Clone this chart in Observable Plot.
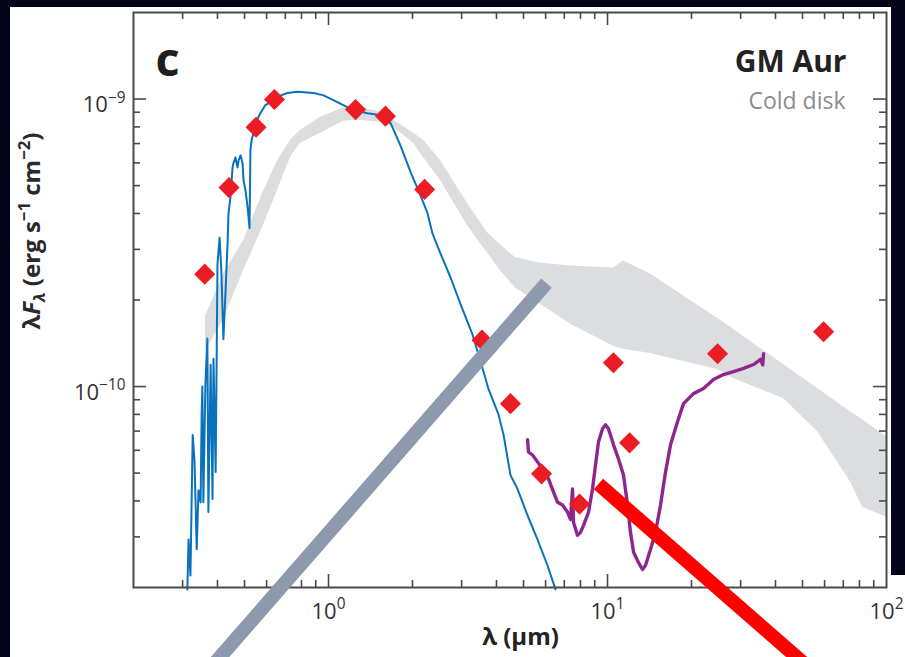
<!DOCTYPE html>
<html><head><meta charset="utf-8">
<script src="https://cdn.jsdelivr.net/npm/d3@7"></script>
<script src="https://cdn.jsdelivr.net/npm/@observablehq/plot@0.6"></script>
<style>
html,body{margin:0;padding:0;background:#04041a;width:905px;height:657px;overflow:hidden;}
#panel{position:absolute;left:10px;top:7px;width:881px;height:650px;background:#fff;}
#panel2{position:absolute;left:891px;top:575px;width:14px;height:82px;background:#fff;}
#chart{position:absolute;left:0;top:0;}
</style></head><body>
<div id="panel"></div><div id="panel2"></div><div id="chart"></div>
<script>
// ---- data (wavelength in µm, λFλ in erg s^-1 cm^-2) ----
const photWave = [0.36, 0.44, 0.55, 0.64, 1.25, 1.60, 2.21, 3.55, 4.49, 5.80, 7.94, 10.5, 12.0, 24.8, 59.5];
const photFlux = [2.46e-10, 4.92e-10, 7.98e-10, 9.96e-10, 9.19e-10, 8.72e-10, 4.85e-10, 1.45e-10, 8.72e-11, 4.97e-11, 3.90e-11, 1.21e-10, 6.37e-11, 1.30e-10, 1.55e-10];

const stellarSpectrum = [
  [0.312,1.97e-11],[0.315,2.94e-11],[0.320,2.20e-11],[0.326,6.79e-11],[0.331,5.47e-11],[0.337,2.72e-11],
  [0.342,4.36e-11],[0.348,3.96e-11],[0.351,7.98e-11],[0.353,1.0e-10],[0.356,3.96e-11],[0.362,1.02e-10],
  [0.368,1.47e-10],[0.371,3.66e-11],[0.378,1.19e-10],[0.384,4.06e-11],[0.387,1.25e-10],[0.394,5.04e-11],
  [0.400,2.67e-10],[0.407,3.29e-10],[0.413,2.52e-10],[0.420,1.46e-10],[0.428,2.20e-10],[0.435,3.21e-10],
  [0.438,3.99e-10],[0.445,4.54e-10],[0.453,5.78e-10],[0.456,5.97e-10],[0.464,6.27e-10],[0.472,5.78e-10],
  [0.476,6.12e-10],[0.484,6.37e-10],[0.492,5.97e-10],[0.496,5.21e-10],[0.504,4.81e-10],[0.513,4.19e-10],
  [0.521,3.56e-10],[0.525,6.64e-10],[0.530,7.19e-10],[0.538,7.61e-10],[0.547,8.24e-10],[0.570,8.93e-10],
  [0.594,9.53e-10],[0.620,9.76e-10],[0.656,1.02e-9],[0.713,1.05e-9],[0.774,1.06e-9],[0.884,1.05e-9],
  [0.960,1.03e-9],[1.04,9.92e-10],[1.13,9.53e-10],[1.23,9.15e-10],[1.38,8.93e-10],[1.54,8.79e-10],
  [1.67,8.24e-10],[1.81,6.90e-10],[1.97,5.56e-10],[2.10,4.81e-10],[2.26,4.03e-10],[2.36,3.40e-10],
  [2.52,2.90e-10],[2.74,2.39e-10],[2.97,1.94e-10],[3.28,1.52e-10],[3.51,1.22e-10],[3.74,9.84e-11],
  [4.07,7.98e-11],[4.24,6.79e-11],[4.49,4.92e-11],[4.76,4.40e-11],[5.17,3.56e-11],[5.61,2.94e-11],
  [6.09,2.39e-11],[6.51,1.97e-11]
];

// cold disk model band: [wavelength, lower, upper]
const diskBand = [
  [0.3623,1.325e-10,1.757e-10],[0.4204,1.715e-10,2.463e-10],[0.4958,2.524e-10,3.213e-10],
  [0.5800,3.567e-10,4.690e-10],[0.6566,4.805e-10,6.117e-10],[0.7308,6.267e-10,7.188e-10],
  [0.7937,7.018e-10,7.789e-10],[0.9362,7.604e-10,8.651e-10],[1.132,8.376e-10,9.301e-10],
  [1.270,8.444e-10,9.376e-10],[1.536,8.308e-10,9.006e-10],[1.710,7.98e-10,8.444e-10],
  [2.017,7.018e-10,7.604e-10],[2.190,6.267e-10,7.188e-10],[2.520,5.209e-10,6.117e-10],
  [3.149,3.625e-10,4.328e-10],[3.715,2.917e-10,3.427e-10],[4.135,2.524e-10,3.112e-10],
  [4.680,2.202e-10,2.803e-10],[5.753,1.935e-10,2.692e-10],[7.369,1.647e-10,2.628e-10],
  [10.51,1.380e-10,2.586e-10],[11.41,1.347e-10,2.736e-10],[14.26,1.304e-10,2.463e-10],
  [18.73,1.223e-10,2.064e-10],[24.80,1.147e-10,1.729e-10],[28.29,1.066e-10,1.582e-10],
  [42.73,9.08e-11,1.193e-10],[56.57,6.97e-11,9.84e-11],[74.30,4.66e-11,8.18e-11],
  [82.04,3.80e-11,7.67e-11],[100,3.51e-11,6.69e-11]
];

// Spitzer IRS spectrum
const irsSpectrum = [
  [5.169,6.53e-11],[5.21,5.92e-11],[5.385,5.78e-11],[5.612,5.47e-11],[5.848,5.17e-11],[6.145,4.77e-11],
  [6.405,4.29e-11],[6.620,3.96e-11],[6.898,3.87e-11],[7.189,3.66e-11],[7.369,3.45e-11],[7.492,4.40e-11],
  [7.553,3.37e-11],[7.807,3.04e-11],[8.003,3.11e-11],[8.204,3.29e-11],[8.551,3.66e-11],[8.836,4.40e-11],
  [9.058,5.34e-11],[9.284,6.42e-11],[9.596,7.13e-11],[9.836,7.36e-11],[10.08,7.13e-11],[10.51,6.27e-11],
  [10.95,5.60e-11],[11.41,4.92e-11],[11.80,3.87e-11],[12.09,3.11e-11],[12.40,2.65e-11],[12.92,2.44e-11],
  [13.35,2.31e-11],[13.69,2.39e-11],[14.26,2.71e-11],[14.86,3.11e-11],[15.49,3.87e-11],[16.14,5.04e-11],
  [16.82,6.27e-11],[17.82,7.54e-11],[18.73,8.72e-11],[20.33,9.45e-11],[22.08,9.84e-11],[23.99,1.058e-10],
  [26.05,1.101e-10],[28.29,1.128e-10],[30.73,1.156e-10],[33.37,1.193e-10],[35.35,1.243e-10],[36.0,1.19e-10],[36.24,1.30e-10]
];

// overlaid annotation strokes (data coordinates of their ends)
const greyStroke = [[6.045,2.29e-10],[0.339,9.31e-12]];
const redStroke = [[9.28,4.58e-11],[60.9,9.31e-12]];

// ticks
const xMajor = [1, 10];
const xMinor = [0.3,0.4,0.5,0.6,0.7,0.8,0.9,2,3,4,5,6,7,8,9,20,30,40,50,60,70,80,90];
const xLabels = [1, 10, 100];
const yMajor = [1e-10, 1e-9];
const yMinor = [3e-11,4e-11,5e-11,6e-11,7e-11,8e-11,9e-11,2e-10,3e-10,4e-10,5e-10,6e-10,7e-10,8e-10,9e-10];
const yLabels = [1e-10, 1e-9];

const titleText = "c";
const starName = "GM Aur";
const starClass = "Cold disk";
const xTitle = "λ (µm)";
const yTitle = "λ*F*_{λ} (erg s^{−1} cm^{−2})";

// ---- layout ----
const W = 905, H = 657, mL = 133, mR = 19, mT = 12, mB = 70;
const plotW = W - mL - mR, plotH = H - mT - mB;
const majorLen = 13, minorLen = 7;
const tickColor = "#4a4a4a";
const font = "'Open Sans', sans-serif";
const expFmt = d => "10^{" + String(Math.round(Math.log10(d))).replace("-", "−") + "}";

const tx = (vals, len, side) => Plot.tickX(vals, {x: d => d, stroke: tickColor, strokeWidth: 1.6,
  insetTop: side === "bottom" ? plotH - len : 0, insetBottom: side === "top" ? plotH - len : 0});
const ty = (vals, len, side) => Plot.tickY(vals, {y: d => d, stroke: tickColor, strokeWidth: 1.6,
  insetRight: side === "left" ? plotW - len : 0, insetLeft: side === "right" ? plotW - len : 0});

const plot = Plot.plot({
  width: W, height: H,
  marginLeft: mL, marginRight: mR, marginTop: mT, marginBottom: mB,
  style: {background: "transparent", fontFamily: font, overflow: "visible"},
  x: {type: "log", domain: [0.2, 100], axis: null},
  y: {type: "log", domain: [2e-11, 2e-9], axis: null},
  marks: [
    Plot.areaY(diskBand, {x: d => d[0], y1: d => d[1], y2: d => d[2], fill: "#dcdddf"}),
    Plot.line(stellarSpectrum, {x: d => d[0], y: d => d[1], stroke: "#0a71bd", strokeWidth: 2}),
    Plot.line(irsSpectrum, {x: d => d[0], y: d => d[1], stroke: "#8e268f", strokeWidth: 3.4}),
    Plot.dot(photWave.map((w, i) => [w, photFlux[i]]), {x: d => d[0], y: d => d[1], symbol: "diamond2", r: 9.5, fill: "#ec1c24"}),
    Plot.frame({stroke: tickColor, strokeWidth: 2}),
    tx(xMajor, majorLen, "bottom"), tx(xMinor, minorLen, "bottom"),
    tx(xMajor, majorLen, "top"), tx(xMinor, minorLen, "top"),
    ty(yMajor, majorLen, "left"), ty(yMinor, minorLen, "left"),
    ty(yMajor, majorLen, "right"), ty(yMinor, minorLen, "right"),
    Plot.text(xLabels, {x: d => d, frameAnchor: "bottom", lineAnchor: "middle", text: expFmt, dy: 24, fontSize: 22, fill: "#333", textAnchor: "middle"}),
    Plot.text(yLabels, {y: d => d, frameAnchor: "left", lineAnchor: "middle", text: expFmt, dx: -8, dy: 6, fontSize: 22, fill: "#333", textAnchor: "end"}),
    Plot.text([xTitle], {frameAnchor: "bottom", lineAnchor: "middle", text: d => d, dx: 10.5, dy: 50, fontSize: 24, fontWeight: "bold", fill: "#222"}),
    Plot.text([yTitle], {frameAnchor: "left", lineAnchor: "middle", textAnchor: "middle", text: d => d, rotate: -90, dx: -101, dy: -69, fontSize: 24, fontWeight: "bold", fill: "#2a2a2a", letterSpacing: "1px", wordSpacing: "3px"}),
    Plot.text([titleText], {frameAnchor: "top-left", lineAnchor: "middle", text: d => d, dx: 22, dy: 48, fontSize: 47, fontWeight: "bold", fill: "#1e1e1e", textAnchor: "start"}),
    Plot.text([starName], {frameAnchor: "top-right", lineAnchor: "middle", text: d => d, dx: -40, dy: 50, fontSize: 30, fontWeight: "bold", fill: "#222", textAnchor: "end"}),
    Plot.text([starClass], {frameAnchor: "top-right", lineAnchor: "middle", text: d => d, dx: -41, dy: 89.5, fontSize: 23, fill: "#8c8c8c", textAnchor: "end"}),
    Plot.line(greyStroke, {x: d => d[0], y: d => d[1], stroke: "#8d9aae", strokeWidth: 14, strokeLinecap: "butt"}),
    Plot.line(redStroke, {x: d => d[0], y: d => d[1], stroke: "#ff0000", strokeWidth: 14, strokeLinecap: "butt"})
  ]
});
document.getElementById("chart").append(plot);

// rich text: ^{sup}, _{sub}, *italic*
const ns = "http://www.w3.org/2000/svg";
const re = /\^\{([^}]*)\}|_\{([^}]*)\}|\*([^*]*)\*|([^\^_*]+)/g;
plot.querySelectorAll("text").forEach(t => {
  const s = t.textContent;
  if (!/[\^_*]/.test(s)) return;
  const fs = parseFloat(getComputedStyle(t).fontSize) || 22;
  while (t.firstChild) t.removeChild(t.firstChild);
  let shift = 0;
  for (const m of s.matchAll(re)) {
    const ts = document.createElementNS(ns, "tspan");
    let target = 0, size = null, italic = false, txt;
    if (m[1] !== undefined) { txt = m[1]; target = -0.42 * fs; size = 0.7 * fs; }
    else if (m[2] !== undefined) { txt = m[2]; target = 0.22 * fs; size = 0.7 * fs; italic = true; }
    else if (m[3] !== undefined) { txt = m[3]; italic = true; }
    else txt = m[4];
    const d = target - shift;
    if (d) ts.setAttribute("dy", d);
    shift = target;
    if (size) ts.setAttribute("font-size", size);
    if (italic) ts.setAttribute("font-style", "italic");
    ts.textContent = txt;
    t.appendChild(ts);
  }
});
</script></body></html>
